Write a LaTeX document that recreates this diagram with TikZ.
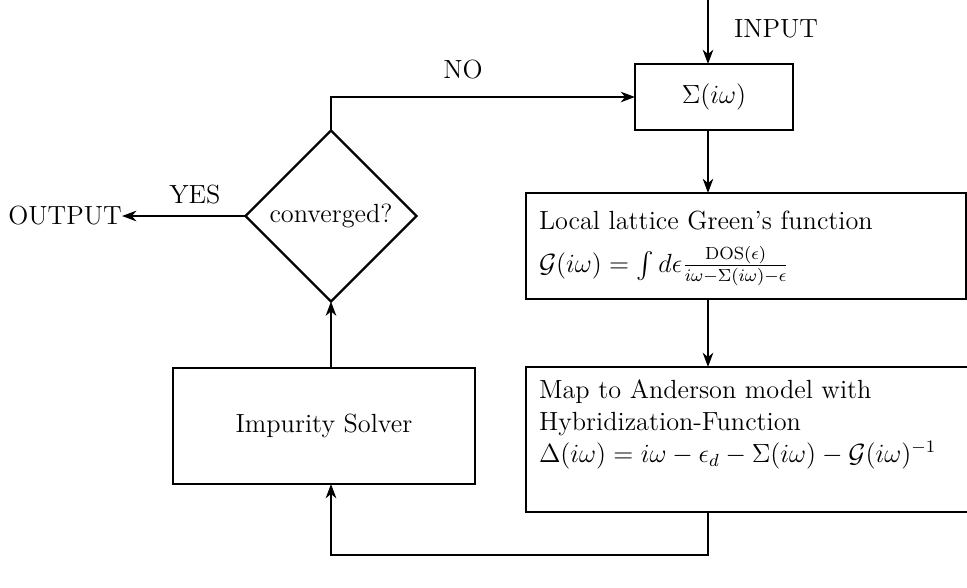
\documentclass[tikz,border=0pt]{standalone}
\usepackage{amsmath}
\usetikzlibrary{shapes.geometric,arrows.meta}
\begin{document}
\begin{tikzpicture}[x=0.4566pt,y=-0.4566pt,
  font=\fontsize{12}{14.5}\selectfont,
  box/.style={draw,line width=1pt,rectangle,inner sep=0pt,outer sep=0pt},
  dec/.style={draw,line width=1pt,diamond,inner sep=0pt,outer sep=0pt,aspect=1},
  txt/.style={inner sep=0pt,outer sep=0pt,align=left},
  lbl/.style={inner sep=0pt},
  conn/.style={line width=1pt,-{Stealth[length=6.5pt,width=4.8pt,inset=2pt]}}]
\useasboundingbox (0,0) rectangle (967,587);
% boxes
\node[box,minimum width=158*0.4566pt,minimum height=66*0.4566pt] (sigma) at (714,97) {$\Sigma(i\omega)$};
\node[box,minimum width=440*0.4566pt,minimum height=106*0.4566pt] (green) at (746,246) {};
\node[txt,anchor=north west] (greentxt) at (539,211) {Local lattice Green's function\\[5pt]
  $\mathcal{G}(i\omega) = \int d\epsilon \frac{\mathrm{DOS}(\epsilon)}{i\omega-\Sigma(i\omega)-\epsilon}$};
\node[box,minimum width=449*0.4566pt,minimum height=145*0.4566pt] (anderson) at (750.5,439.5) {};
\node[txt,anchor=north west] (andtxt) at (539,380) {Map to Anderson model with\\
  Hybridization-Function\\
  $\Delta(i\omega) = i\omega - \epsilon_d - \Sigma(i\omega) - \mathcal{G}(i\omega)^{-1}$};
\node[box,minimum width=302*0.4566pt,minimum height=116*0.4566pt] (imp) at (324,426) {Impurity Solver};
\node[dec,minimum width=171*0.4566pt,minimum height=171*0.4566pt] (dia) at (331,216) {converged?};
\node[lbl] (out) at (65,216) {OUTPUT};
% labels
\node[lbl] (nolbl) at (463,70) {NO};
\node[lbl] (yeslbl) at (195,195) {YES};
\node[lbl] (inlbl) at (776,29) {INPUT};
% helper coordinates
\coordinate (spine) at (708,0);
\coordinate (bot) at (708,555);
% connectors
\draw[conn] (spine) -- (spine |- sigma.north);
\draw[conn] (sigma.south -| spine) -- (green.north -| spine);
\draw[conn] (green.south -| spine) -- (anderson.north -| spine);
\draw[conn] (anderson.south -| spine) -- (bot) -- (bot -| dia.south) -- (imp.south -| dia.south);
\draw[conn] (imp.north -| dia.south) -- (dia.south);
\draw[conn] (dia.north) |- (sigma.west);
\draw[conn] (dia.west) -- (out.east);
\end{tikzpicture}
\end{document}
